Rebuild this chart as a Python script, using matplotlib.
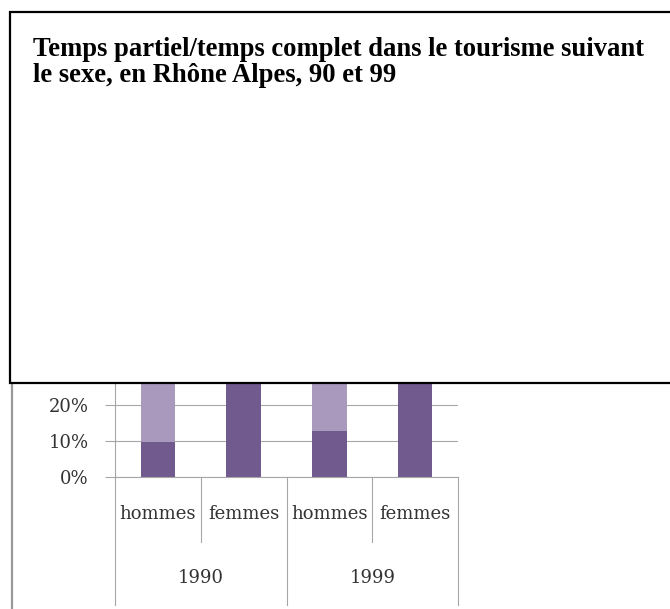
import numpy as np
import matplotlib
matplotlib.use('Agg')
import matplotlib.pyplot as plt
import matplotlib.patches as pat
import matplotlib.lines as lin

####################################################################################
# Data

categories = ['hommes', 'femmes', 'hommes', 'femmes']
years = ['1990', '1999']
partiel = [0.097, 0.40, 0.128, 0.38]     # temps partiel (dark)
complet = [0.903, 0.60, 0.872, 0.62]     # temps complet (light)
title_lines = ["Temps partiel/temps complet dans le tourisme suivant",
               "le sexe, en Rhône Alpes, 90 et 99"]

dark_col = '#715a8e'
light_col = '#a899bd'
grid_col = '#a6a6a6'
txt_col = '#333333'

####################################################################################

W, H = 670, 609
fig = plt.figure(figsize=(W / 100, H / 100), dpi=100)

# axes placed in pixels: y 0% at 477 px, 100% at 117 px ; x from 115 to 458
x0, x1, y0, y1 = 115, 458, 477, 117
ax = fig.add_axes([x0 / W, (H - y0) / H, (x1 - x0) / W, (y0 - y1) / H])

x = np.arange(len(categories))
ax.bar(x, partiel, width=0.4, color=dark_col, zorder=3)
ax.bar(x, complet, bottom=partiel, width=0.4, color=light_col, zorder=3)

ax.set_xlim(-0.5, len(categories) - 0.5)
ax.set_ylim(0, 1)
ax.set_yticks(np.arange(0, 1.01, 0.1))
ax.set_yticklabels(['%d%%' % round(v * 100) for v in np.arange(0, 1.01, 0.1)],
                   family='DejaVu Serif', fontsize=13, color=txt_col)
ax.tick_params(axis='y', length=7, width=0.8, color=grid_col, pad=12)
ax.set_xticks([])
ax.yaxis.grid(True, color=grid_col, lw=0.8, zorder=0)

for s in ['top', 'right', 'bottom']:
    ax.spines[s].set_visible(False)
ax.spines['left'].set_color(grid_col)
ax.spines['left'].set_linewidth(0.8)

# category axis below the plot
px = 1.0 / (y0 - y1)
tr = ax.get_xaxis_transform()
ax.plot([-0.5, 3.5], [0, 0], transform=tr, color=grid_col, lw=0.8, clip_on=False, zorder=4)
for xs in [0.5, 2.5]:
    ax.plot([xs, xs], [0, -(542 - y0) * px], transform=tr, color=grid_col, lw=0.8, clip_on=False)
for xs in [-0.5, 1.5, 3.5]:
    ax.plot([xs, xs], [0, -(605 - y0) * px], transform=tr, color=grid_col, lw=0.8, clip_on=False)
for i, c in enumerate(categories):
    ax.text(i, -(514 - y0) * px, c, transform=tr, ha='center', va='center',
            family='DejaVu Serif', fontsize=13, color=txt_col)
for j, yr in enumerate(years):
    ax.text(2 * j + 0.5, -(578 - y0) * px, yr, transform=tr, ha='center', va='center',
            family='DejaVu Serif', fontsize=13, color=txt_col)

# gray left border of the underlying chart
fig.add_artist(lin.Line2D([12 / W, 12 / W], [0, (H - 383) / H], color='#999999', lw=1.6))

# white title box over the top of the chart
box = pat.Rectangle((10 / W, (H - 383) / H), (W + 10) / W, (383 - 12) / H,
                    transform=fig.transFigure, facecolor='white', edgecolor='black',
                    lw=1.6, zorder=10, clip_on=False)
fig.add_artist(box)
for k, line in enumerate(title_lines):
    fig.text(33 / W, (H - 47 - 26 * k) / H, line, ha='left', va='center_baseline',
             fontsize=19.2, family='Liberation Serif', weight='bold', zorder=11)

plt.savefig('out.png', dpi=100)
